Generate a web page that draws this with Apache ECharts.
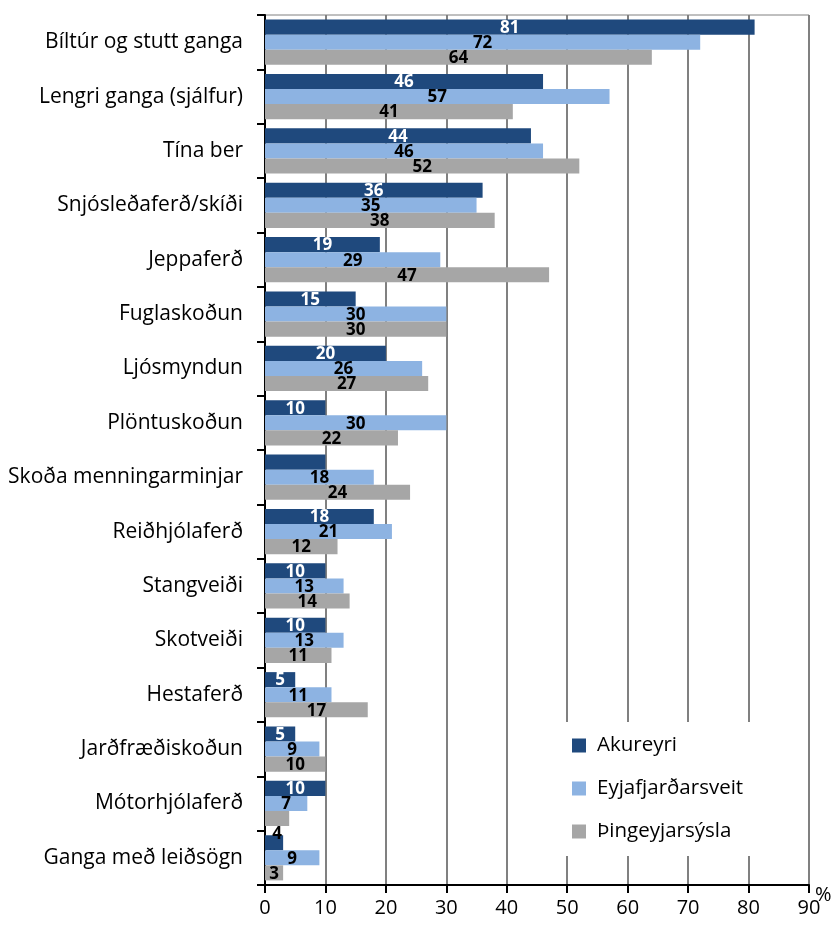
<!DOCTYPE html>
<html>
<head>
<meta charset="utf-8">
<script src="https://cdn.jsdelivr.net/npm/echarts@6/dist/echarts.min.js"></script>
<style>
	html, body { margin: 0; padding: 0; background: #fff; }
	#chart { width: 835px; height: 926px; }
</style>
</head>
<body>
<div id="chart"></div>
<script>
	// flokkar (efst til neðst)
	var categories = ['Bíltúr og stutt ganga', 'Lengri ganga (sjálfur)', 'Tína ber', 'Snjósleðaferð/skíði',
		'Jeppaferð', 'Fuglaskoðun', 'Ljósmyndun', 'Plöntuskoðun', 'Skoða menningarminjar',
		'Reiðhjólaferð', 'Stangveiði', 'Skotveiði', 'Hestaferð', 'Jarðfræðiskoðun',
		'Mótorhjólaferð', 'Ganga með leiðsögn'];
	var seriesNames = ['Akureyri', 'Eyjafjarðarsveit', 'Þingeyjarsýsla'];
	var akureyri        = [81, 46, 44, 36, 19, 15, 20, 10, 10, 18, 10, 10, 5, 5, 10, 3];
	var eyjafjardarsveit = [72, 57, 46, 35, 29, 30, 26, 30, 18, 21, 13, 13, 11, 9, 7, 9];
	var thingeyjarsysla = [64, 41, 52, 38, 47, 30, 27, 22, 24, 12, 14, 11, 17, 10, 4, 3];
	var xTicks = [0, 10, 20, 30, 40, 50, 60, 70, 80, 90];

	var colors = ['#1f497d', '#8db3e2', '#a6a6a6'];
	var labelColors = ['#ffffff', '#000000', '#000000'];
	var font = 'Open Sans';

	// Excel setti nokkra merkimiða skakkt, líkjum eftir því
	function toData(values, si) {
		return values.map(function(v, i) {
			var item = { value: v };
			if (si === 0 && i === 8) {
				item.label = { offset: [55, 0] };
			}
			if (si === 0 && i === 15) {
				item.label = { show: false };
			}
			if (si === 2 && i === 14) {
				item.label = { offset: [0, 16] };
			}
			return item;
		});
	}

	var allValues = [akureyri, eyjafjardarsveit, thingeyjarsysla];
	var series = seriesNames.map(function(name, si) {
		return {
			name: name,
			type: 'bar',
			barGap: '0%',
			barCategoryGap: '17%',
			itemStyle: { color: colors[si] },
			label: {
				show: true,
				position: 'inside',
				offset: [0, 1],
				color: labelColors[si],
				fontFamily: font,
				fontWeight: 'bold',
				fontSize: 17
			},
			data: toData(allValues[si], si)
		};
	});

	var myChart = echarts.init(document.getElementById('chart'));
	var option = {
		animation: false,
		backgroundColor: '#fff',
		textStyle: { fontFamily: font },
		grid: {
			left: 265, right: 26, top: 15, bottom: 41,
			outerBoundsMode: 'none',
			containLabel: false,
			show: true, borderColor: '#808080', borderWidth: 1
		},
		legend: {
			orient: 'vertical',
			left: 556, top: 722,
			width: 250,
			padding: [13, 20, 14, 16],
			backgroundColor: '#fff',
			itemWidth: 14, itemHeight: 14,
			itemGap: 22,
			icon: 'rect',
			textStyle: { fontSize: 20.5, color: '#000', fontFamily: font, padding: [0, 0, 0, 6] },
			data: seriesNames
		},
		xAxis: {
			type: 'value',
			min: 0, max: 90, interval: 10,
			name: '%',
			nameLocation: 'end',
			nameGap: 6,
			nameMoveOverlap: false,
			nameTextStyle: { fontSize: 20, color: '#000', verticalAlign: 'top' },
			axisLine: { show: true, lineStyle: { color: '#000', width: 2 } },
			axisTick: { show: true, length: 8, lineStyle: { color: '#000', width: 2 } },
			axisLabel: {
				fontSize: 20, color: '#000', margin: 13,
				formatter: function(v) { return xTicks.indexOf(v) >= 0 ? String(v) : ''; }
			},
			splitLine: { show: true, lineStyle: { color: '#808080', width: 2 } }
		},
		yAxis: {
			type: 'category',
			inverse: true,
			data: categories,
			axisLine: { show: true, lineStyle: { color: '#000', width: 2 } },
			axisTick: { show: true, length: 8, lineStyle: { color: '#000', width: 2 } },
			axisLabel: { fontSize: 21, color: '#000', margin: 22 },
			splitLine: { show: false }
		},
		series: series
	};
	myChart.setOption(option);
</script>
</body>
</html>
